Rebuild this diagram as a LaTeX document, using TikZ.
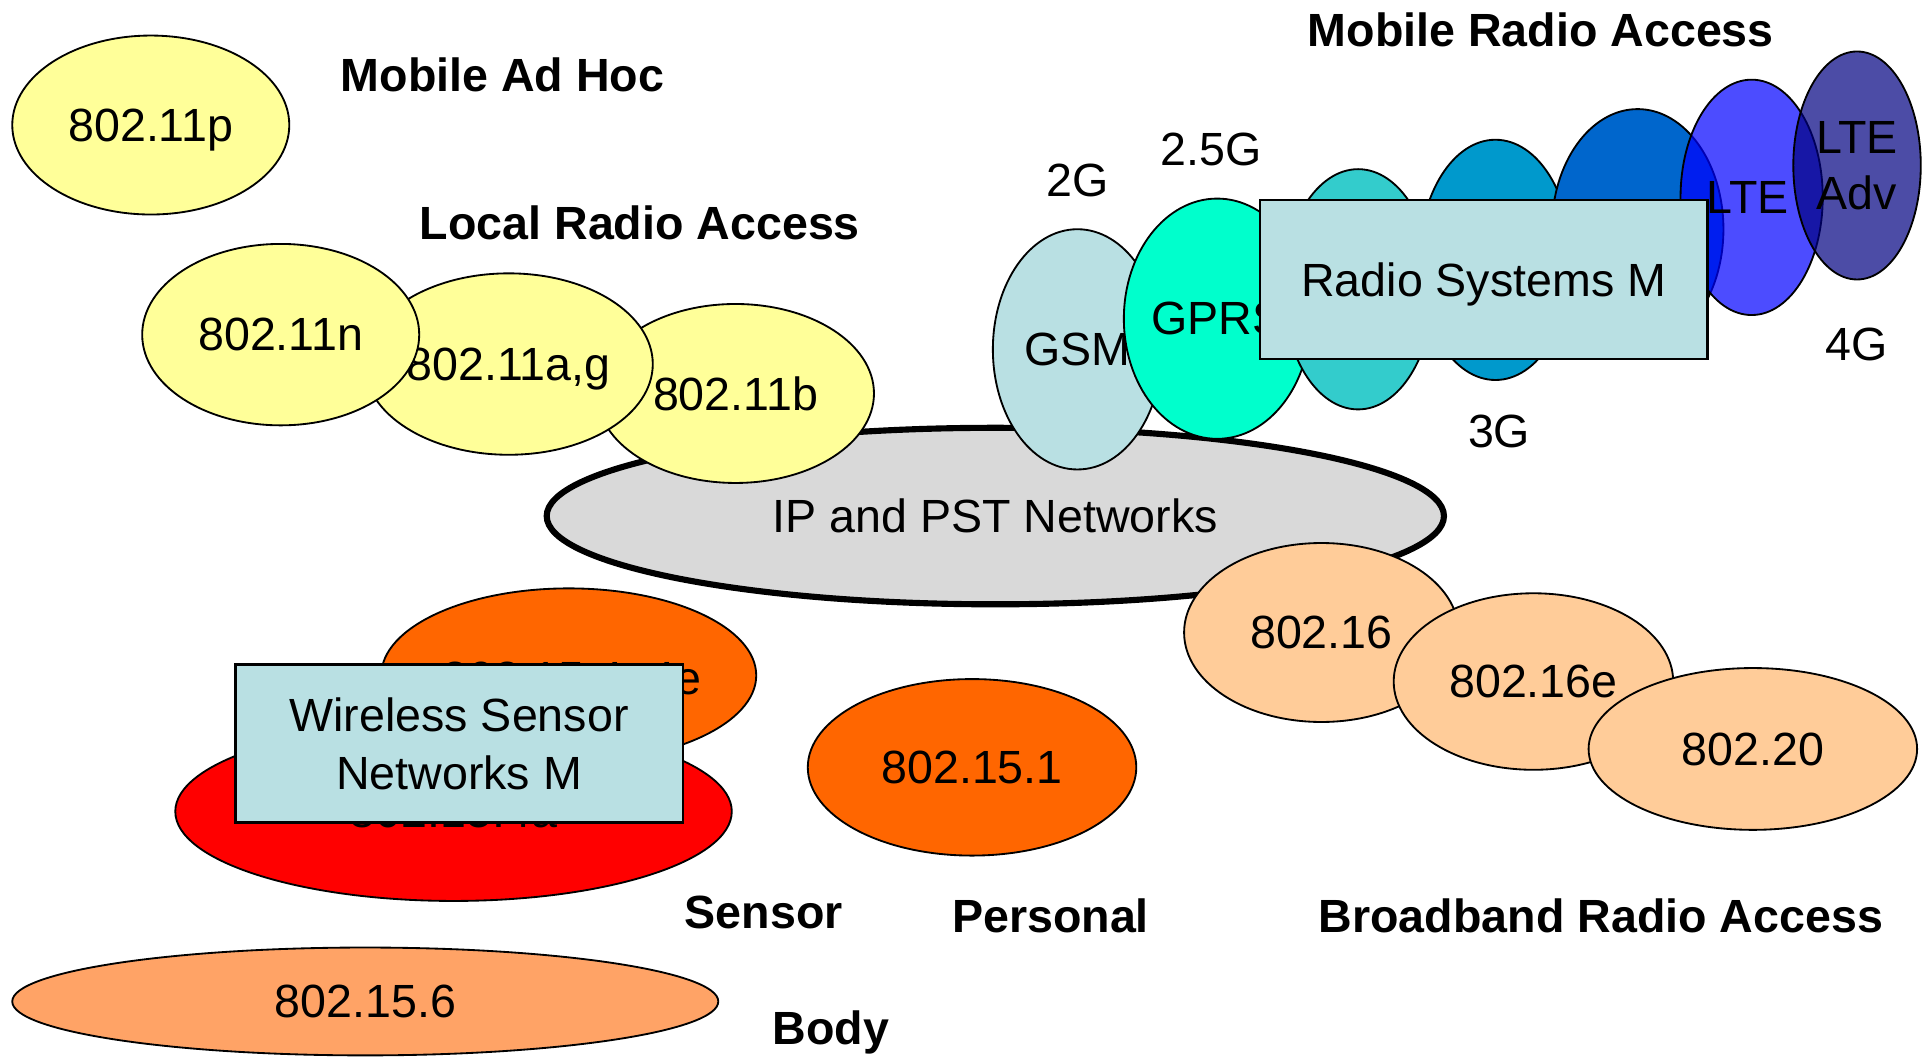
\documentclass[tikz,border=0pt]{standalone}
\usepackage{fontspec}
\setmainfont{Liberation Sans}
\usetikzlibrary{shapes.geometric}

\definecolor{wifi}{HTML}{FFFF99}
\definecolor{ipgray}{HTML}{D9D9D9}
\definecolor{paleblue}{HTML}{B9E0E3}
\definecolor{gprsc}{HTML}{00FFCC}
\definecolor{umtsc}{HTML}{33CCCC}
\definecolor{hspac}{HTML}{0099CC}
\definecolor{hspapc}{HTML}{0066CC}
\definecolor{ltec}{HTML}{0000FF}
\definecolor{lteadvc}{HTML}{000080}
\definecolor{wimaxc}{HTML}{FFCC99}
\definecolor{zigbeec}{HTML}{FF6600}
\definecolor{sensorc}{HTML}{FF0000}
\definecolor{bodyc}{HTML}{FFA366}

\begin{document}
\begin{tikzpicture}[x=1pt,y=-1pt,
  txt/.style={font=\fontsize{38}{46}\selectfont, inner sep=0pt},
  head/.style={font=\fontsize{38}{46}\selectfont\bfseries, inner sep=0pt},
  cell/.style={ellipse, draw=black, line width=1.5pt, inner sep=0pt,
    font=\fontsize{38}{46}\selectfont, align=center, text depth=0pt},
  seethrough/.style={fill opacity=0.7, text opacity=1},
  panel/.style={rectangle, draw=black, line width=2pt, fill=paleblue,
    inner sep=0pt, font=\fontsize{38}{47}\selectfont, align=center, text depth=0pt}
]
\useasboundingbox (0,0) rectangle (1568,862);

% body area network
\node[cell, fill=bodyc, minimum width=576pt, minimum height=88pt] (ban) at (298,817) {802.15.6};

% core network
\node[cell, fill=ipgray, line width=5pt, minimum width=732pt, minimum height=144pt] (ip) at (812,421) {IP and PST Networks};

% local radio access (WLAN) and ad hoc
\node[cell, fill=wifi, minimum width=226pt, minimum height=146pt] (wb)  at (600,321) {802.11b};
\node[cell, fill=wifi, minimum width=224pt, minimum height=148pt] (wag) at (415,297) {802.11a,g};
\node[cell, fill=wifi, minimum width=226pt, minimum height=148pt] (wn)  at (229,273) {802.11n};
\node[cell, fill=wifi, minimum width=226pt, minimum height=146pt] (wp)  at (123,102) {802.11p};

% mobile radio access generations
\node[cell, fill=paleblue, minimum width=138pt, minimum height=196pt] (gsm)  at (879,285) {GSM};
\node[cell, fill=gprsc,    minimum width=132pt, minimum height=196pt] (gprs) at (993,260) {GPRS};
\node[cell, fill=umtsc,    minimum width=122pt, minimum height=196pt] (umts) at (1108,236) {};
\node[cell, fill=hspac,    minimum width=124pt, minimum height=196pt] (hspa) at (1220,212) {};
\node[cell, fill=hspapc,   minimum width=140pt, minimum height=196pt] (hspap) at (1336,187) {};
\node[cell, fill=ltec, seethrough, minimum width=116pt, minimum height=192pt] (lte) at (1429,161) {\hspace*{-6pt}LTE};
\node[cell, fill=lteadvc, seethrough, minimum width=104pt, minimum height=186pt] (lteadv) at (1515,135) {LTE\\Adv};
\node[panel, minimum width=365pt, minimum height=130pt] (rsm) at (1210.5,228) {Radio Systems M};

% broadband radio access
\node[cell, fill=wimaxc, minimum width=224pt, minimum height=146pt] (w16)  at (1078,516) {802.16};
\node[cell, fill=wimaxc, minimum width=228pt, minimum height=144pt] (w16e) at (1251,556) {802.16e};
\node[cell, fill=wimaxc, minimum width=268pt, minimum height=132pt] (w20)  at (1430,611) {802.20};

% sensor and personal area networks
\node[cell, fill=sensorc, minimum width=454pt, minimum height=146pt] (s4a) at (370,662) {802.15.4a};
\node[cell, fill=zigbeec, minimum width=298pt, minimum height=142pt] (s4e) at (464,551) {\hspace*{5pt}\raisebox{-4pt}{802.15.4, 4e}};
\node[panel, minimum width=365pt, minimum height=129pt] (wsn) at (374.5,606.5) {Wireless Sensor\\Networks M};
\node[cell, fill=zigbeec, minimum width=268pt, minimum height=144pt] (bt) at (793,626) {802.15.1};

% generation labels
\node[txt] (g2)  at (879,147) {2G};
\node[txt] (g25) at (988,122) {2.5G};
\node[txt] (g3)  at (1223,352) {3G};
\node[txt] (g4)  at (1515,281) {4G};

% category headings
\node[head] (hmra) at (1257,24) {Mobile Radio Access};
\node[head] (hah)  at (410,61) {Mobile Ad Hoc};
\node[head] (hlra) at (522,182) {Local Radio Access};
\node[head] (hsen) at (623,744) {Sensor};
\node[head] (hper) at (857,747) {Personal};
\node[head] (hbra) at (1306,747) {Broadband Radio Access};
\node[head] (hbod) at (678,842) {Body};
\end{tikzpicture}
\end{document}
